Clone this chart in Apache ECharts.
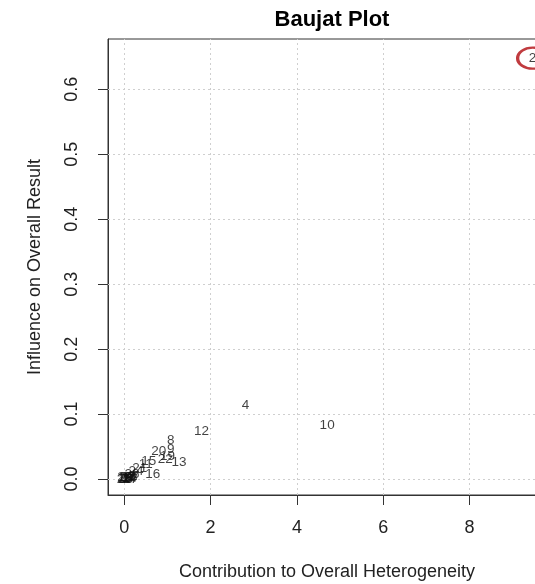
<!DOCTYPE html>
<html>
<head>
<meta charset="utf-8">
<script src="https://cdn.jsdelivr.net/npm/echarts@6/dist/echarts.min.js"></script>
<style>
  html, body { margin: 0; padding: 0; background: #fff; }
  #chart { width: 535px; height: 584px; }
</style>
</head>
<body>
<div id="chart"></div>
<script>
// Study labels and their Baujat coordinates
const studyIds = ['1','2','3','4','5','6','7','8','9','10','11','12','13','14','15',
                  '16','17','18','19','20','21','22','23','24','25','26','27','28','29'];
const heterogeneity = [0.05, 9.46, 0.16, 2.81, 0.08, 0.22, 0.03, 1.08, 1.08, 4.70,
                       0.50, 1.79, 1.27, 0.12, 0.57, 0.66, 0.10, 0.02, 1.00, 0.80,
                       0.36, 0.95, 0.06, 0.27, 0.00, 0.18, 0.14, 0.01, 0.04];
const influence = [0.001, 0.648, 0.004, 0.114, 0.002, 0.003, 0.000, 0.060, 0.046, 0.083,
                   0.023, 0.074, 0.026, 0.001, 0.028, 0.008, 0.003, 0.001, 0.035, 0.042,
                   0.017, 0.031, 0.002, 0.012, 0.000, 0.008, 0.000, 0.002, 0.000];
// Highlighted study
const highlightId = '2';

const xTicks = [0, 2, 4, 6, 8];
const yTicks = [0.0, 0.1, 0.2, 0.3, 0.4, 0.5, 0.6];

const points = studyIds.map((id, i) => [heterogeneity[i], influence[i], id]);
const hi = studyIds.indexOf(highlightId);

const gridLines = xTicks.map(v => ({ xAxis: v })).concat(yTicks.map(v => ({ yAxis: v })));

const chart = echarts.init(document.getElementById('chart'), null, { renderer: 'canvas' });
const font = 'Liberation Sans, Arial, Helvetica, sans-serif';

chart.setOption({
  backgroundColor: '#ffffff',
  animation: false,
  textStyle: { fontFamily: font },
  title: {
    text: 'Baujat Plot',
    left: 327,
    top: 4,
    textAlign: 'center',
    textStyle: { fontFamily: font, fontWeight: 'bold', fontSize: 22, color: '#000' }
  },
  grid: {
    left: 108, top: 39, right: -11, bottom: 89,
    outerBoundsMode: 'none',
    containLabel: false,
    show: true, borderColor: '#333', borderWidth: 1, backgroundColor: 'transparent'
  },
  xAxis: {
    type: 'value',
    min: -0.376, max: 9.77,
    name: 'Contribution to Overall Heterogeneity',
    nameLocation: 'middle',
    nameGap: 68,
    nameTextStyle: { fontFamily: font, fontSize: 18, color: '#222' },
    axisLine: { show: true, onZero: false, lineStyle: { color: '#333', width: 1 } },
    axisTick: { show: true, length: 10, inside: false, customValues: xTicks,
                lineStyle: { color: '#333', width: 1 } },
    axisLabel: { show: true, customValues: xTicks, margin: 24, fontSize: 18,
                 color: '#222', fontFamily: font, formatter: v => String(v) },
    splitLine: { show: false }
  },
  yAxis: {
    type: 'value',
    min: -0.0246, max: 0.6775,
    name: 'Influence on Overall Result',
    nameLocation: 'middle',
    nameRotate: 90,
    nameGap: 64,
    nameTextStyle: { fontFamily: font, fontSize: 18, color: '#222' },
    axisLine: { show: true, onZero: false, lineStyle: { color: '#333', width: 1 } },
    axisTick: { show: true, length: 10, inside: false, customValues: yTicks,
                lineStyle: { color: '#333', width: 1 } },
    axisLabel: { show: true, customValues: yTicks, margin: 27, rotate: 90, fontSize: 18,
                 color: '#222', fontFamily: font, formatter: v => v.toFixed(1) },
    splitLine: { show: false }
  },
  series: [
    {
      // dotted reference grid at the tick positions
      type: 'scatter',
      data: [],
      silent: true,
      markLine: {
        silent: true,
        symbol: ['none', 'none'],
        label: { show: false },
        lineStyle: { color: '#cfcfcf', type: [2, 3], width: 1 },
        data: gridLines,
        z: 1
      },
      z: 1
    },
    {
      // red ring around the highlighted study
      type: 'scatter',
      data: [points[hi]],
      symbol: 'circle',
      symbolSize: [30, 21],
      itemStyle: { color: 'rgba(0,0,0,0)', borderColor: '#b00a0f', borderWidth: 2.8 },
      silent: true,
      z: 3
    },
    {
      // study ids drawn at their coordinates
      type: 'scatter',
      data: points,
      symbolSize: 0,
      itemStyle: { color: 'rgba(0,0,0,0)' },
      label: {
        show: true,
        position: 'inside',
        formatter: p => p.data[2],
        fontFamily: font,
        fontSize: 13.5,
        color: '#111'
      },
      labelLayout: { hideOverlap: false },
      silent: true,
      z: 4
    }
  ]
});
</script>
</body>
</html>
